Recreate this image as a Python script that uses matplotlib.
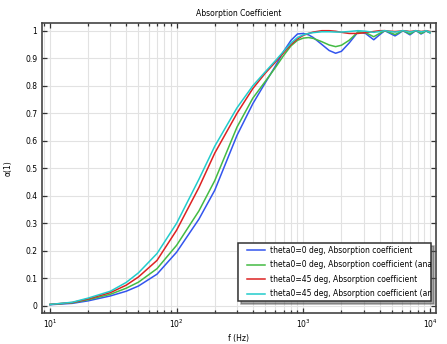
import matplotlib
matplotlib.use('Agg')
import matplotlib.pyplot as plt
from matplotlib.legend_handler import HandlerLine2D
import numpy as np

# frequencies (Hz)
freq = [10, 15, 20, 30, 40, 50, 70, 100, 150, 200, 300, 400, 500, 600, 700,
        800, 900, 1000, 1100, 1200, 1400, 1600, 1800, 2000, 2300, 2700, 3100,
        3600, 4000, 4400, 4850, 5300, 5700, 6100, 6500, 6950, 7300, 7700,
        8100, 8500, 8900, 9300, 10000]

# theta0=0 deg, first curve (blue)
a0_1 = [0.004, 0.009, 0.018, 0.036, 0.053, 0.072, 0.115, 0.195, 0.315, 0.42,
        0.62, 0.735, 0.81, 0.87, 0.925, 0.965, 0.988, 0.99, 0.985, 0.975,
        0.95, 0.928, 0.918, 0.925, 0.955, 0.995, 0.99, 0.967, 0.985, 1.0,
        0.99, 0.981, 0.99, 1.0, 0.993, 0.985, 0.992, 1.0, 0.995, 0.988,
        0.993, 0.999, 0.992]

# theta0=0 deg, second curve (green)
a0_2 = [0.005, 0.011, 0.022, 0.042, 0.064, 0.086, 0.135, 0.22, 0.345, 0.455,
        0.65, 0.755, 0.815, 0.865, 0.91, 0.945, 0.965, 0.973, 0.975, 0.972,
        0.96, 0.948, 0.942, 0.947, 0.965, 0.995, 0.993, 0.978, 0.99, 1.0,
        0.993, 0.986, 0.993, 1.0, 0.995, 0.988, 0.994, 1.0, 0.996, 0.99,
        0.994, 0.999, 0.993]

# theta0=45 deg, first curve (red)
a45_1 = [0.005, 0.012, 0.025, 0.048, 0.075, 0.105, 0.165, 0.275, 0.43, 0.555,
         0.70, 0.79, 0.845, 0.885, 0.92, 0.95, 0.97, 0.983, 0.99, 0.995,
         1.0, 1.0, 0.998, 0.994, 0.99, 0.99, 0.993, 0.997, 1.0, 1.0,
         0.998, 0.997, 0.998, 1.0, 0.999, 0.997, 0.998, 1.0, 0.999, 0.997,
         0.998, 1.0, 0.997]

# theta0=45 deg, second curve (cyan)
a45_2 = [0.005, 0.013, 0.028, 0.053, 0.085, 0.12, 0.19, 0.30, 0.46, 0.58,
         0.72, 0.80, 0.85, 0.89, 0.925, 0.955, 0.975, 0.985, 0.99, 0.993,
         0.996, 0.996, 0.995, 0.995, 0.997, 1.0, 0.998, 0.994, 0.997, 1.0,
         0.997, 0.995, 0.997, 1.0, 0.998, 0.995, 0.997, 1.0, 0.998, 0.996,
         0.997, 1.0, 0.995]

labels = ['theta0=0 deg, Absorption coefficient',
          'theta0=0 deg, Absorption coefficient (analytic)',
          'theta0=45 deg, Absorption coefficient',
          'theta0=45 deg, Absorption coefficient (analytic)']
colors = ['#3355ee', '#44bb44', '#dd2222', '#22cccc']

fs = 5.5

fig = plt.figure(figsize=(4.47, 3.44), dpi=100)
ax = fig.add_axes([0.0946, 0.091, 0.880, 0.843])

lines = []
for a, lab, c in zip([a0_1, a0_2, a45_1, a45_2], labels, colors):
    l, = ax.plot(freq, a, color=c, lw=1.1, label=lab)
    lines.append(l)

ax.set_xscale('log')
ax.set_xlim(8.7, 11090)
ax.set_ylim(-0.025, 1.029)
ax.set_yticks(np.arange(0, 1.01, 0.1))
ax.set_yticklabels(['0', '0.1', '0.2', '0.3', '0.4', '0.5', '0.6', '0.7',
                    '0.8', '0.9', '1'])

ax.grid(True, which='major', color='#e2e2e2', lw=0.8)
ax.grid(True, which='minor', axis='x', color='#e2e2e2', lw=0.8)
ax.set_axisbelow(True)
ax.tick_params(which='both', direction='in', top=True, right=True,
               labelsize=fs, color='#333333', width=0.9)
ax.tick_params(which='major', length=3.5)
ax.tick_params(which='minor', length=2.2)
for s in ax.spines.values():
    s.set_color('#444444')
    s.set_linewidth(1.2)

ax.set_title('Absorption Coefficient', fontsize=fs, pad=5)
ax.set_xlabel('f (Hz)', fontsize=fs, labelpad=3)
ax.set_ylabel('\u03b1(1)', fontsize=fs, labelpad=9)

hmap = {l: HandlerLine2D(xpad=0.82) for l in lines}
leg = ax.legend(loc='lower left', bbox_to_anchor=(0.4975, 0.040, 0.4905, 0.197),
                mode='expand', borderaxespad=0, fontsize=fs, fancybox=False,
                shadow=True, framealpha=1, handlelength=3.18,
                handletextpad=0.65, borderpad=0.35, labelspacing=0.72,
                handler_map=hmap)
leg.get_frame().set_edgecolor('#333333')
leg.get_frame().set_linewidth(1.1)

# the long labels are cut at the legend border, as in the original
fig.canvas.draw()
bb = leg.get_frame().get_window_extent()
for t in leg.get_texts():
    t.set_clip_on(True)
    t.set_clip_box(bb)

fig.savefig('out.png', dpi=100)
